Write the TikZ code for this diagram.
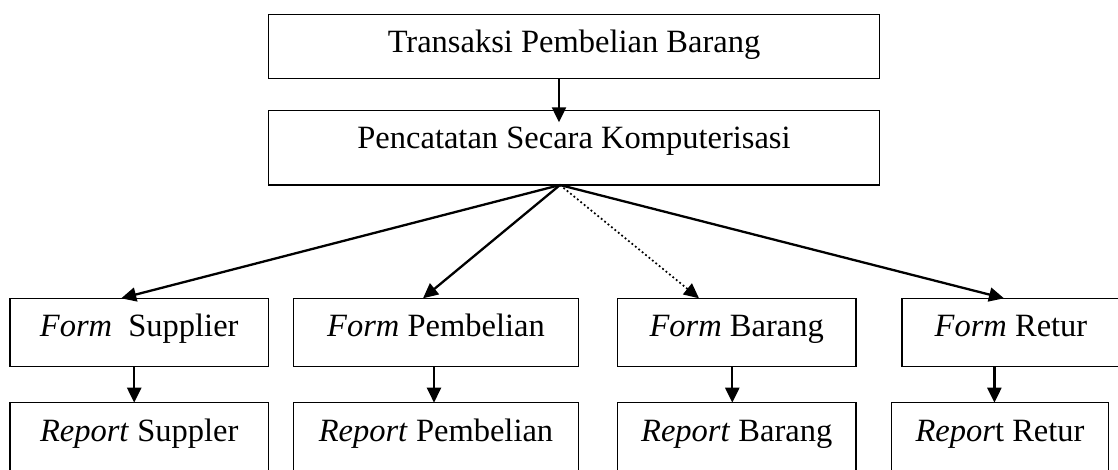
\documentclass[tikz,border=0pt]{standalone}
\usepackage{fontspec}
\setmainfont{Liberation Serif}
\usetikzlibrary{arrows.meta}
\begin{document}
\begin{tikzpicture}[x=1pt,y=-1pt,
  box/.style={draw, line width=1.5pt, inner sep=0pt, outer sep=0pt, anchor=north,
    text height=38.5pt, font=\fontsize{32.5}{38}\selectfont},
  arr/.style={line width=2.3pt, -{Triangle[length=15pt,width=14pt]}},
  dotarr/.style={line width=1.7pt, dash pattern=on 1.8pt off 2.6pt, -{Triangle[length=15pt,width=14pt]}}]
\useasboundingbox (0,0) rectangle (1118,469);
% top two boxes
\node[box, minimum width=611.4pt, text depth=25.7pt] (top) at (574,14.3) {Transaksi Pembelian Barang};
\node[box, minimum width=611.4pt, text depth=36.2pt] (mid) at (574,110.3) {Pencatatan Secara Komputerisasi};
% form row
\node[box, minimum width=258.3pt, text depth=29.9pt] (fs) at (139.2,298.3) {\textit{Form}~~Supplier};
\node[box, minimum width=285.4pt, text depth=29.9pt] (fp) at (436,298.3) {\textit{Form} Pembelian};
\node[box, minimum width=238.7pt, text depth=29.9pt] (fb) at (736.7,298.3) {\textit{Form} Barang};
\node[box, minimum width=218pt, text depth=29.9pt] (fr) at (1011,298.3) {\textit{Form} Retur};
% report row
\node[box, minimum width=258.3pt, text depth=41.5pt] (rs) at (139.2,402.7) {\textit{Report} Suppler};
\node[box, minimum width=285.4pt, text depth=41.5pt] (rp) at (436,402.7) {\textit{Report} Pembelian};
\node[box, minimum width=238.7pt, text depth=41.5pt] (rb) at (736.7,402.7) {\textit{Report} Barang};
\node[box, minimum width=216.6pt, text depth=41.5pt] (rr) at (1000,402.7) {\textit{Repor}t Retur};
% connectors
\draw[arr] ([xshift=-15pt]top.south) -- ([xshift=-15pt,yshift=-12pt]mid.north);
\coordinate (fan) at ([xshift=-14pt]mid.south);
\draw[arr] (fan) -- ([xshift=-18pt]fs.north);
\draw[arr] (fan) -- ([xshift=-13pt]fp.north);
\draw[dotarr] (fan) -- ([xshift=-37.7pt]fb.north);
\draw[arr] (fan) -- ([xshift=-7pt]fr.north);
\draw[arr] ([xshift=-5pt]fs.south) -- ([xshift=-5pt]rs.north);
\draw[arr] ([xshift=-2pt]fp.south) -- ([xshift=-2pt]rp.north);
\draw[arr] ([xshift=-4.4pt]fb.south) -- ([xshift=-4.4pt]rb.north);
\draw[arr] ([xshift=-5.6pt]rr.north |- fr.south) -- ([xshift=-5.6pt]rr.north);
\end{tikzpicture}
\end{document}
